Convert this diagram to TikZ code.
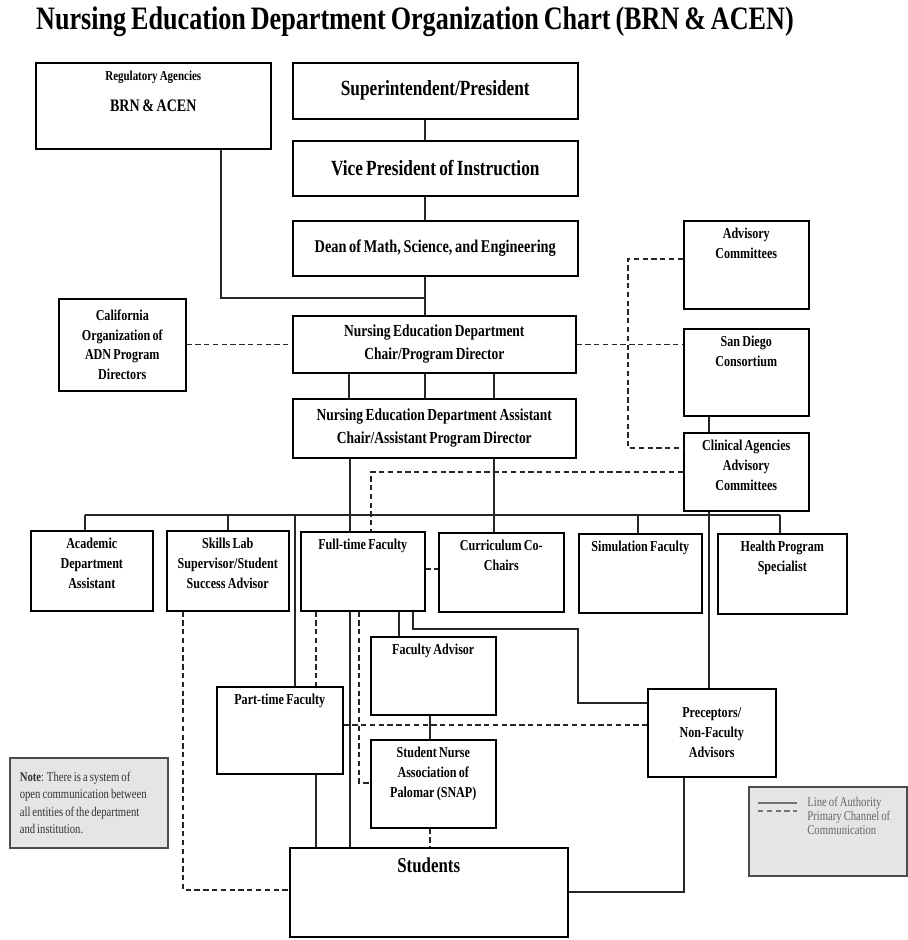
\documentclass[tikz,border=0pt]{standalone}
\usepackage{fontspec}
\setmainfont{Liberation Serif}[FakeStretch=0.8,WordSpace=0.75]
\usepackage{tikz}

\begin{document}
\begin{tikzpicture}[x=0.02cm,y=-0.02cm,
  box/.style={draw,line width=0.9pt,anchor=north west,align=flush center,inner xsep=0pt,inner ysep=3pt,font=\bfseries\fontsize{8.6}{11.3}\selectfont},
  topbox/.style 2 args={box,text width=#1,text height=7pt,text depth=#2-13pt},
  midbox/.style 2 args={box,text width=#1,minimum height=#2},
  auth/.style={line width=0.6pt,black!85},
  comm/.style={auth,dash pattern=on 3pt off 2pt},
  shaded/.style={draw=black!70,line width=0.9pt,fill=black!10,anchor=north west,align=flush left,font=\fontsize{7.6}{10}\selectfont}]
\path[use as bounding box,fill=white] (0,0) rectangle (908,940);
\node[font=\bfseries\fontsize{18.6}{20}\selectfont] (title) at (415,22) {Nursing Education Department Organization Chart (BRN \& ACEN)};

\node[topbox={4.70cm}{1.72cm},font=\bfseries\fontsize{10}{12}\selectfont] (reg) at (35,62) {{\fontsize{7.8}{9}\selectfont Regulatory Agencies}\\[5.6pt]BRN \& ACEN};
\node[midbox={5.70cm}{1.12cm},font=\bfseries\fontsize{12.3}{14}\selectfont] (sup) at (292,62) {Superintendent/President};
\node[midbox={5.70cm}{1.10cm},font=\bfseries\fontsize{12.3}{14}\selectfont] (vp) at (292,140) {Vice President of Instruction};
\node[midbox={5.70cm}{1.10cm},font=\bfseries\fontsize{10.2}{12}\selectfont] (dean) at (292,220) {Dean of Math, Science, and Engineering};
\node[midbox={2.54cm}{1.84cm}] (cal) at (58,298) {California\\Organization of\\ADN Program\\Directors};
\node[midbox={5.66cm}{1.14cm},font=\bfseries\fontsize{9.6}{13}\selectfont] (chair) at (292,315) {Nursing Education Department\\Chair/Program Director};
\node[midbox={5.66cm}{1.18cm},font=\bfseries\fontsize{9.6}{13}\selectfont] (asst) at (292,398) {Nursing Education Department Assistant\\Chair/Assistant Program Director};
\node[topbox={2.50cm}{1.76cm}] (adv) at (683,220) {Advisory\\Committees};
\node[topbox={2.50cm}{1.74cm}] (sdc) at (683,328) {San Diego\\Consortium};
\node[topbox={2.50cm}{1.56cm}] (clin) at (683,432) {Clinical Agencies\\Advisory\\Committees};

\node[topbox={2.44cm}{1.60cm}] (acad) at (30,530) {Academic\\Department\\Assistant};
\node[topbox={2.44cm}{1.60cm}] (skills) at (166,530) {Skills Lab\\Supervisor/Student\\Success Advisor};
\node[topbox={2.48cm}{1.58cm}] (ft) at (300,531) {Full-time Faculty};
\node[topbox={2.50cm}{1.58cm}] (cur) at (438,532) {Curriculum Co-\\Chairs};
\node[topbox={2.46cm}{1.58cm}] (sim) at (578,533) {Simulation Faculty};
\node[topbox={2.58cm}{1.60cm}] (hps) at (717,533) {Health Program\\Specialist};
\node[topbox={2.50cm}{1.56cm}] (fadv) at (370,636) {Faculty Advisor};
\node[topbox={2.52cm}{1.74cm}] (pt) at (216,686) {Part-time Faculty};
\node[topbox={2.50cm}{1.76cm}] (snap) at (370,739) {Student Nurse\\Association of\\Palomar (SNAP)};
\node[midbox={2.56cm}{1.76cm}] (prec) at (647,688) {Preceptors/\\Non-Faculty\\Advisors};
\node[box,text width=5.56cm,text height=11pt,text depth=1.78cm-17pt,font=\bfseries\fontsize{12}{14}\selectfont] (stud) at (289,847) {Students};

\node[shaded,text width=2.76cm,inner xsep=0.2cm,inner ysep=0pt,minimum height=1.8cm,text=black!80] (note) at (9,757) {\textbf{Note}: There is a system of\\open communication between\\all entities of the department\\and institution.};
\node[shaded,text width=3.16cm,inner sep=0pt,minimum height=1.78cm] (legend) at (748,786) {};
\node[anchor=north west,align=left,inner sep=0pt,text=black!60,font=\fontsize{7.6}{7.8}\selectfont] (legtext) at (807,797) {Line of Authority\\Primary Channel of\\Communication};
\draw[auth,black!55] (758,803) -- (797,803);
\draw[comm,black!55] (758,811) -- (797,811);

\coordinate (spine) at (425,0);
\coordinate (join) at (425,298);
\coordinate (bus) at (0,515);
\draw[auth] (sup.south -| spine) -- (vp.north -| spine);
\draw[auth] (vp.south -| spine) -- (dean.north -| spine);
\draw[auth] (dean.south -| spine) -- (chair.north -| spine);
\draw[auth] (reg.south -| 221,0) |- (join);
\foreach \x in {349,425,494}
  \draw[auth] (chair.south -| \x,0) -- (asst.north -| \x,0);
\draw[auth] (asst.south -| 350,0) -- (ft.north -| 350,0);
\draw[auth] (asst.south -| 494,0) -- (cur.north -| 494,0);
\draw[auth] (85,0 |- bus) -- (780,0 |- bus);
\foreach \x/\n in {85/acad,228/skills,638/sim,780/hps,295/pt}
  \draw[auth] (\x,0 |- bus) -- (\n.north -| \x,0);
\draw[auth] (sdc.south -| 709,0) -- (clin.north -| 709,0);
\draw[auth] (clin.south -| 709,0) -- (prec.north -| 709,0);
\draw[auth] (ft.south -| 399,0) -- (fadv.north -| 399,0);
\draw[auth] (ft.south -| 350,0) -- (stud.north -| 350,0);
\draw[auth] (ft.south -| 413,0) |- (578,629) |- (prec.west |- 0,703);
\draw[auth] (fadv.south -| 430,0) -- (snap.north -| 430,0);
\draw[auth] (pt.south -| 316,0) -- (stud.north -| 316,0);
\draw[auth] (prec.south -| 684,0) |- (stud.east |- 0,892);

\draw[comm] (cal.east |- chair.west) -- (chair.west);
\draw[comm] (chair.east) -- (sdc.west |- chair.east);
\draw[comm] (adv.west |- 0,259) -| (628,448) -- (clin.west |- 0,448);
\draw[comm] (clin.west |- 0,472) -| (ft.north -| 371,0);
\draw[comm] (ft.east |- 0,569) -- (cur.west |- 0,569);
\draw[comm] (skills.south -| 183,0) |- (stud.west |- 0,890);
\draw[comm] (ft.south -| 316,0) -- (pt.north -| 316,0);
\draw[comm] (ft.south -| 359,0) |- (snap.west |- 0,783);
\draw[comm] (pt.east |- 0,725) -- (prec.west |- 0,725);
\draw[comm] (snap.south -| 430,0) -- (stud.north -| 430,0);
\end{tikzpicture}
\end{document}
